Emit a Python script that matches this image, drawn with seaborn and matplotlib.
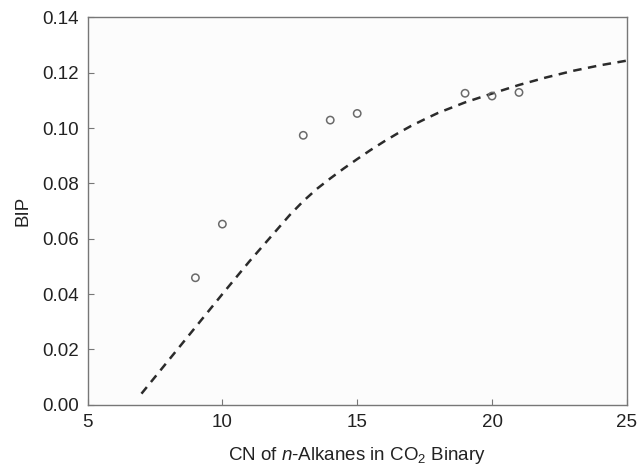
import matplotlib
matplotlib.use("Agg")
import matplotlib.pyplot as plt
import seaborn as sns
import pandas as pd

# measured BIPs for CO2 / n-alkane binaries
carbon_number = [9, 10, 13, 14, 15, 19, 20, 21]
bip_measured = [0.0459, 0.0653, 0.0974, 0.1029, 0.1053, 0.1126, 0.1116, 0.1129]

# correlation curve
curve_cn = [7, 8, 9, 10, 11, 12, 12.5, 13, 13.5, 14, 14.5, 15, 15.5, 16, 16.5,
            17, 17.5, 18, 19, 20, 21, 22, 23, 24, 25]
curve_bip = [0.0040, 0.0160, 0.0280, 0.0400, 0.0518, 0.0630, 0.0686, 0.0736, 0.0780,
             0.0818, 0.0854, 0.0888, 0.0921, 0.0952, 0.0981, 0.1008, 0.1032, 0.1055,
             0.1093, 0.1125, 0.1156, 0.1183, 0.1207, 0.1227, 0.1244]

xticks = [5, 10, 15, 20, 25]
yticks = [0.00, 0.02, 0.04, 0.06, 0.08, 0.10, 0.12, 0.14]

sns.set_style("white")
plt.rcParams['font.family'] = ['Liberation Sans', 'DejaVu Sans']
plt.rcParams['mathtext.fontset'] = 'custom'
plt.rcParams['mathtext.rm'] = 'Liberation Sans'
plt.rcParams['mathtext.it'] = 'Liberation Sans:italic'

pts = pd.DataFrame({'cn': carbon_number, 'bip': bip_measured})
curve = pd.DataFrame({'cn': curve_cn, 'bip': curve_bip})

fig = plt.figure(figsize=(6.39, 4.66), dpi=100)
ax = fig.add_axes([0.137, 0.1315, 0.844, 0.831])
ax.set_facecolor('#fcfcfc')

sns.lineplot(data=curve, x='cn', y='bip', ax=ax, color='#2b2b2b',
             linewidth=1.8, linestyle=(0, (3.4, 2.6)))
sns.scatterplot(data=pts, x='cn', y='bip', ax=ax, marker='o', s=28,
                facecolor='none', edgecolor='#6a6a6a', linewidth=1.1, zorder=3)

ax.set_xlim(5, 25)
ax.set_ylim(0, 0.14)
ax.set_xticks(xticks)
ax.set_yticks(yticks)
ax.set_xticklabels([str(v) for v in xticks])
ax.set_yticklabels([f'{v:.2f}' for v in yticks])
ax.tick_params(direction='in', length=4, width=0.8, color='#777777',
               labelsize=13.5, labelcolor='#222222', bottom=True, left=True)
ax.tick_params(axis='x', pad=7)
ax.tick_params(axis='y', pad=6)

for side in ['top', 'right', 'bottom', 'left']:
    ax.spines[side].set_visible(True)
    ax.spines[side].set_color('#777777')
    ax.spines[side].set_linewidth(1.0)

ax.set_xlabel(r'CN of $\mathit{n}$-Alkanes in CO$_2$ Binary', fontsize=13.5,
              color='#222222', labelpad=10)
ax.set_ylabel('BIP', fontsize=13.5, color='#222222', labelpad=8)

plt.savefig('out.png', dpi=100)
